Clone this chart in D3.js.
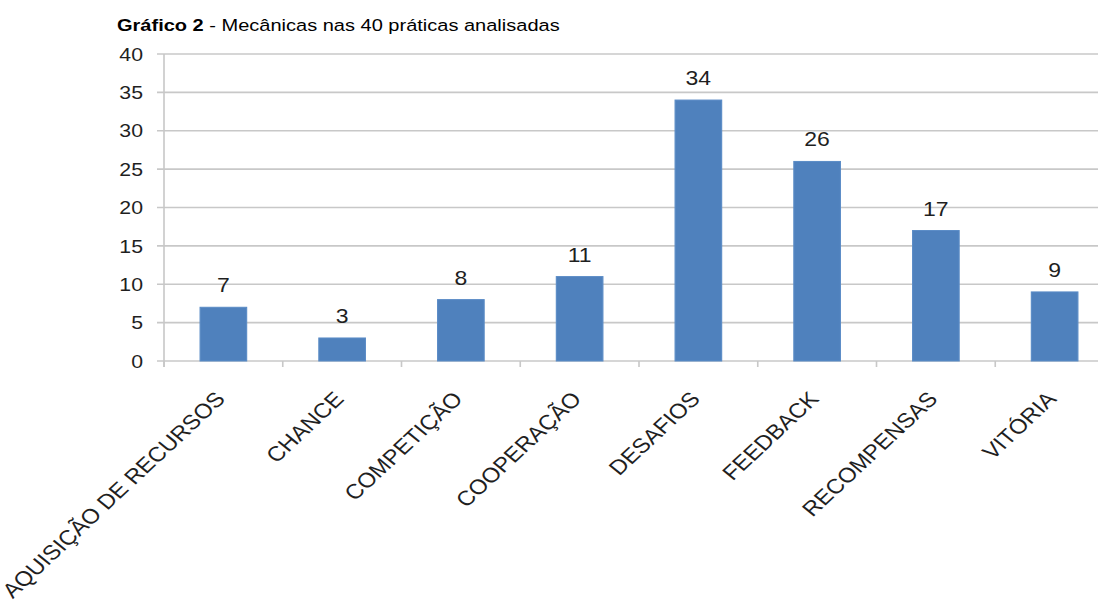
<!DOCTYPE html>
<html>
<head>
<meta charset="utf-8">
<script src="https://cdn.jsdelivr.net/npm/d3@7"></script>
<style>
  html, body { margin: 0; padding: 0; background: #fff; }
  svg { display: block; }
  text { font-family: "Liberation Sans", Arial, sans-serif; }
</style>
</head>
<body>
<svg id="chart" width="1098" height="600"></svg>
<script>
const categories = ["AQUISIÇÃO DE RECURSOS", "CHANCE", "COMPETIÇÃO", "COOPERAÇÃO", "DESAFIOS", "FEEDBACK", "RECOMPENSAS", "VITÓRIA"];
const values = [7, 3, 8, 11, 34, 26, 17, 9];
const yTicks = [0, 5, 10, 15, 20, 25, 30, 35, 40];
const titleBold = "Gráfico 2";
const titleRest = " - Mecânicas nas 40 práticas analisadas";

// the reference picture is horizontally stretched; reproduce with a non-uniform viewBox
const S = 1.15;
const W = 1098, H = 600;
const svg = d3.select("#chart")
  .attr("viewBox", `0 0 ${W / S} ${H}`)
  .attr("preserveAspectRatio", "none");

const mLeft = 164 / S, mRight = 1114 / S, mTop = 54, mBottom = 361;

const x = d3.scaleBand().domain(categories).range([mLeft, mRight]).paddingInner(0.608).paddingOuter(0.304);
const y = d3.scaleLinear().domain([0, 40]).range([mBottom, mTop]);

// title
const t = svg.append("text").attr("x", 117 / S).attr("y", 31).attr("font-size", 17.4).attr("fill", "#000");
t.append("tspan").attr("font-weight", "bold").text(titleBold);
t.append("tspan").text(titleRest);

// gridlines
svg.append("g").selectAll("line").data(yTicks).join("line")
  .attr("x1", 157 / S).attr("x2", W / S)
  .attr("y1", d => y(d)).attr("y2", d => y(d))
  .attr("stroke", "#c8c8c8").attr("stroke-width", 1.6);

// y axis line
svg.append("line").attr("x1", mLeft).attr("x2", mLeft).attr("y1", y(40)).attr("y2", mBottom + 6)
  .attr("stroke", "#c8c8c8").attr("stroke-width", 1.4);

// x tick marks at category boundaries
const step = x.step();
const boundaries = d3.range(categories.length + 1).map(i => mLeft + i * step);
svg.append("g").selectAll("line").data(boundaries).join("line")
  .attr("x1", d => d).attr("x2", d => d)
  .attr("y1", mBottom).attr("y2", mBottom + 6)
  .attr("stroke", "#c8c8c8").attr("stroke-width", 1.4);

// y tick labels
svg.append("g").selectAll("text").data(yTicks).join("text")
  .attr("x", 143 / S).attr("y", d => y(d)).attr("dy", "0.36em")
  .attr("text-anchor", "end").attr("font-size", 18.5).attr("fill", "#1f1f1f")
  .text(d => d);

// bars
svg.append("g").selectAll("rect").data(values).join("rect")
  .attr("x", (d, i) => x(categories[i])).attr("width", x.bandwidth())
  .attr("y", d => y(d)).attr("height", d => mBottom - y(d))
  .attr("fill", "#4f81bd").attr("stroke", "#5b8cc6").attr("stroke-width", 1);

// data labels
svg.append("g").selectAll("text").data(values).join("text")
  .attr("x", (d, i) => x(categories[i]) + x.bandwidth() / 2)
  .attr("y", d => y(d) - 15)
  .attr("text-anchor", "middle").attr("font-size", 20).attr("fill", "#1f1f1f")
  .text(d => d);

// category labels
svg.append("g").selectAll("text").data(categories).join("text")
  .attr("transform", d => `translate(${x(d) + x.bandwidth() / 2 + 3 / S},400) rotate(-47)`)
  .attr("text-anchor", "end").attr("font-size", 20.7).attr("fill", "#1f1f1f")
  .text(d => d);
</script>
</body>
</html>
